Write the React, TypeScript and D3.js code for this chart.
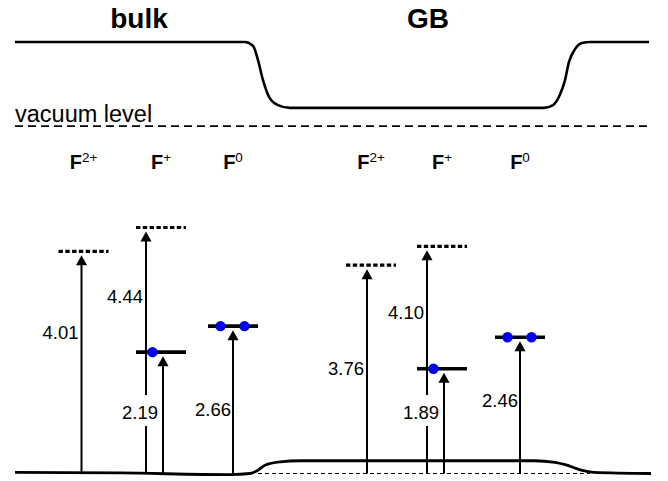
import React from "react";
import * as d3 from "d3";

const W = 668;
const H = 481;

// ---- data (energies in eV, measured from the bulk valence band) ----
const groupNames = ["bulk", "GB"];
const chargeStates = ["2+", "+", "0"];
const bulkEmptyLevels: (number | null)[] = [4.01, 4.44, null];
const bulkOccupiedLevels: (number | null)[] = [null, 2.19, 2.66];
const gbEmptyLevels: (number | null)[] = [3.76, 4.1, null];
const gbOccupiedLevels: (number | null)[] = [null, 1.89, 2.46];
const electronCounts = [0, 1, 2];
const vacuumLevel = 6.27;

// schematic band profiles: position along the sample, energy (eV)
const topProfilePos = [15, 245, 253, 258, 263, 269, 278, 290, 544, 553, 560, 565, 569, 575, 582, 590, 649];
const topProfileE = [7.79, 7.79, 7.72, 7.46, 7.1, 6.8, 6.65, 6.6, 6.6, 6.65, 6.84, 7.1, 7.43, 7.66, 7.77, 7.79, 7.79];
const baseProfilePos = [15, 120, 230, 250, 258, 265, 280, 300, 534, 555, 567, 581, 594, 651];
const baseProfileE = [0.02, 0.01, -0.02, 0, 0.06, 0.15, 0.21, 0.23, 0.23, 0.2, 0.15, 0.06, 0.02, 0];
const gbRefStart = 258;
const gbRefEnd = 590;

// ---- layout ----
const columnPos = [
  [83.5, 161, 233],
  [371, 442, 520],
];
const emptyLabelE = [
  [2.54, 3.19],
  [1.9, 2.9],
];
const occLabelE = [
  [0, 1.11, 1.16],
  [0, 1.11, 1.31],
];
const groupTitlePos = [139, 428];

const FONT = "'Liberation Sans', Arial, Helvetica, sans-serif";

export default function App() {
  const x = d3.scaleLinear().domain([0, W]).range([0, W]);
  const y = d3.scaleLinear().domain([0, 8]).range([473.5, 473.5 - 8 * 55.4]);

  const line = d3
    .line<[number, number]>()
    .x((d) => x(d[0]))
    .y((d) => y(d[1]))
    .curve(d3.curveMonotoneX);

  const topPts = topProfilePos.map((p, i) => [p, topProfileE[i]] as [number, number]);
  const basePts = baseProfilePos.map((p, i) => [p, baseProfileE[i]] as [number, number]);

  const half = 25;
  const elems: React.ReactNode[] = [];

  const arrow = (key: string, ax: number, fromY: number, toY: number, gap?: [number, number]) => {
    const tip = toY + 4;
    const headBase = tip + 10;
    const segs: React.ReactNode[] = [];
    if (gap) {
      segs.push(<line key={key + "a"} x1={ax} x2={ax} y1={fromY} y2={gap[1]} stroke="#000" strokeWidth={2} />);
      segs.push(<line key={key + "b"} x1={ax} x2={ax} y1={gap[0]} y2={headBase - 1} stroke="#000" strokeWidth={2} />);
    } else {
      segs.push(<line key={key + "a"} x1={ax} x2={ax} y1={fromY} y2={headBase - 1} stroke="#000" strokeWidth={2} />);
    }
    segs.push(
      <polygon key={key + "h"} points={`${ax},${tip} ${ax - 5.5},${headBase} ${ax + 5.5},${headBase}`} fill="#000" />
    );
    return segs;
  };

  groupNames.forEach((g, gi) => {
    const empties = gi === 0 ? bulkEmptyLevels : gbEmptyLevels;
    const occs = gi === 0 ? bulkOccupiedLevels : gbOccupiedLevels;
    chargeStates.forEach((s, si) => {
      const cx = x(columnPos[gi][si]);
      const baseY = y(0);
      // state label
      elems.push(
        <text key={`lab-${gi}-${si}`} x={cx} y={168.5} textAnchor="middle" fontFamily={FONT} fontSize={20} fontWeight="bold">
          F
          <tspan fontSize={13.5} fontWeight="normal" dy={-7}>
            {s}
          </tspan>
        </text>
      );
      const eE = empties[si];
      const oE = occs[si];
      if (eE != null) {
        const ly = y(eE);
        elems.push(
          <line key={`el-${gi}-${si}`} x1={cx - half} x2={cx + half} y1={ly} y2={ly} stroke="#000" strokeWidth={3.2} strokeDasharray="4.4 2.4" />
        );
        const ax = si === 1 ? cx - 15 : cx - (gi === 0 ? 2 : 4);
        let gap: [number, number] | undefined;
        if (si === 1 && oE != null) {
          const gy = y(occLabelE[gi][si]);
          gap = [gy - 17, gy + 14];
        }
        elems.push(...arrow(`ea-${gi}-${si}`, ax, baseY, ly, gap));
        elems.push(
          <text key={`et-${gi}-${si}`} x={ax - 3} y={y(emptyLabelE[gi][si]) + 6.5} textAnchor="end" fontFamily={FONT} fontSize={18.5}>
            {eE.toFixed(2)}
          </text>
        );
      }
      if (oE != null) {
        const ly = y(oE);
        elems.push(
          <line key={`ol-${gi}-${si}`} x1={cx - half} x2={cx + half} y1={ly} y2={ly} stroke="#000" strokeWidth={3.6} />
        );
        const ax = si === 1 ? cx + 2 : cx;
        elems.push(...arrow(`oa-${gi}-${si}`, ax, baseY, ly));
        if (si === 1) {
          elems.push(
            <text key={`ot-${gi}-${si}`} x={cx - 21} y={y(occLabelE[gi][si]) + 6.5} textAnchor="middle" fontFamily={FONT} fontSize={18.5}>
              {oE.toFixed(2)}
            </text>
          );
        } else {
          elems.push(
            <text key={`ot-${gi}-${si}`} x={ax - 2} y={y(occLabelE[gi][si]) + 6.5} textAnchor="end" fontFamily={FONT} fontSize={18.5}>
              {oE.toFixed(2)}
            </text>
          );
        }
        const n = electronCounts[si];
        const offs = n === 1 ? [-8.5] : [-12.5, 11.5];
        offs.forEach((o, k) => {
          elems.push(<circle key={`dot-${gi}-${si}-${k}`} cx={cx + o} cy={ly} r={5.2} fill="#0000ee" />);
        });
      }
    });
    elems.push(
      <text key={`title-${gi}`} x={groupTitlePos[gi]} y={28} textAnchor="middle" fontFamily={FONT} fontSize={28} fontWeight="bold">
        {g}
      </text>
    );
  });

  return (
    <svg width={W} height={H} style={{ position: "absolute", left: 0, top: 0, background: "#fff" }}>
      <rect x={0} y={0} width={W} height={H} fill="#fff" />
      <path d={line(topPts) || ""} fill="none" stroke="#000" strokeWidth={2.6} />
      <text x={15} y={122} fontFamily={FONT} fontSize={23.5}>
        vacuum level
      </text>
      <line x1={x(15)} x2={x(651)} y1={y(vacuumLevel)} y2={y(vacuumLevel)} stroke="#000" strokeWidth={1.6} strokeDasharray="8 5" />
      <line x1={x(gbRefStart)} x2={x(gbRefEnd)} y1={y(0)} y2={y(0)} stroke="#000" strokeWidth={1.2} strokeDasharray="4 3" />
      {elems}
      <path d={line(basePts) || ""} fill="none" stroke="#000" strokeWidth={2.8} />
    </svg>
  );
}
